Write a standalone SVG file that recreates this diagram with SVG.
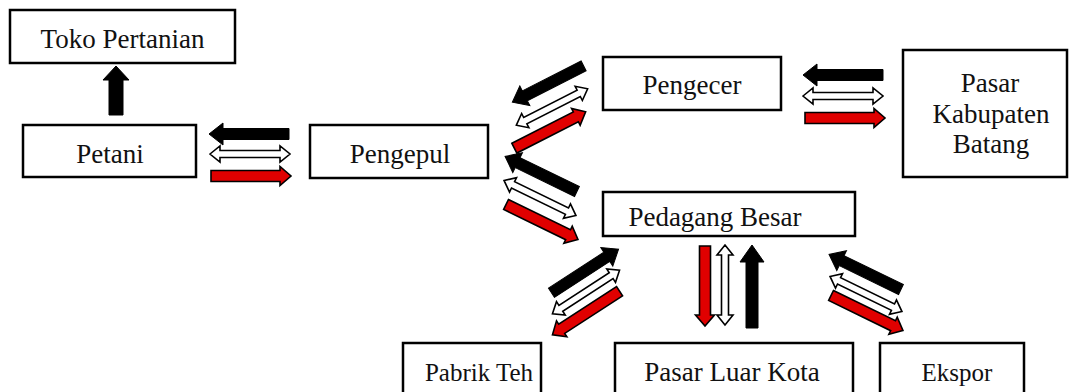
<svg xmlns="http://www.w3.org/2000/svg" width="1071" height="392" viewBox="0 0 1071 392">
<style>
.box{fill:#fff;stroke:#000;stroke-width:2.5}
.t{font-family:"Liberation Serif","Times New Roman",serif;font-size:27px;fill:#111;text-anchor:middle}
.s{font-size:25px}
.blk{fill:#000;stroke:#000;stroke-width:1}
.dbl{fill:#fff;stroke:#000;stroke-width:1.6}
.red{fill:#e00000;stroke:#000;stroke-width:1.6}
</style>
<defs>
<path id="aBlk" class="blk" d="M-40,-5.5 L26,-5.5 L26,-11 L40,0 L26,11 L26,5.5 L-40,5.5 Z"/>
<path id="aDbl" class="dbl" d="M-40,0 L-30,-8 L-30,-3.5 L30,-3.5 L30,-8 L40,0 L30,8 L30,3.5 L-30,3.5 L-30,8 Z"/>
<path id="aRed" class="red" d="M-40,-5.5 L29,-5.5 L29,-9.5 L40,0 L29,9.5 L29,5.5 L-40,5.5 Z"/>
</defs>

<g id="toko"><rect class="box" x="10" y="10" width="225" height="53"/><text class="t" x="122.5" y="48">Toko Pertanian</text></g>
<g id="petani"><rect class="box" x="23" y="125" width="173" height="52"/><text class="t" x="110" y="163">Petani</text></g>
<g id="pengepul"><rect class="box" x="310" y="125" width="178" height="53"/><text class="t" x="400" y="163">Pengepul</text></g>
<g id="pengecer"><rect class="box" x="603" y="57" width="178" height="53"/><text class="t" x="692" y="94">Pengecer</text></g>
<g id="pasar-kabupaten"><rect class="box" x="903" y="50" width="164" height="127"/><text class="t" x="990" y="92">Pasar</text><text class="t" x="991" y="123">Kabupaten</text><text class="t" x="991" y="153">Batang</text></g>
<g id="pedagang-besar"><rect class="box" x="603" y="192" width="252" height="44"/><text class="t" x="715" y="226">Pedagang Besar</text></g>
<g id="pabrik-teh"><rect class="box" x="403" y="343" width="138" height="55"/><text class="t s" x="479" y="381">Pabrik Teh</text></g>
<g id="pasar-luar-kota"><rect class="box" x="615" y="343" width="238" height="55"/><text class="t" x="732" y="381">Pasar Luar Kota</text></g>
<g id="ekspor"><rect class="box" x="880" y="343" width="144" height="55"/><text class="t s" x="957" y="381">Ekspor</text></g>

<g id="connectors">
<path class="blk" d="M109,115 L109,80 L103,80 L116,66 L129,80 L123,80 L123,115 Z"/>

<use href="#aBlk" transform="translate(249,134) rotate(180)"/>
<use href="#aDbl" transform="translate(250,154)"/>
<use href="#aRed" transform="translate(251,176)"/>

<use href="#aBlk" transform="translate(843,75) rotate(180)"/>
<use href="#aDbl" transform="translate(843,96)"/>
<use href="#aRed" transform="translate(845,118)"/>

<use href="#aBlk" transform="translate(548,84) rotate(153)"/>
<use href="#aDbl" transform="translate(552,107) rotate(-27)"/>
<use href="#aRed" transform="translate(550,130) rotate(-27)"/>

<use href="#aBlk" transform="translate(541,174) rotate(206)"/>
<use href="#aDbl" transform="translate(540,198) rotate(26)"/>
<use href="#aRed" transform="translate(542,222) rotate(26)"/>

<use href="#aBlk" transform="translate(585,271) rotate(-33)"/>
<use href="#aDbl" transform="translate(586,292) rotate(-33)"/>
<use href="#aRed" transform="translate(586,313) rotate(147)"/>

<use href="#aRed" transform="translate(705,286) rotate(90)"/>
<use href="#aDbl" transform="translate(725,285) rotate(90)"/>
<path class="blk" d="M746,328 L746,262 L740,262 L752,245 L764,262 L758,262 L758,328 Z"/>

<use href="#aBlk" transform="translate(865,272) rotate(206)"/>
<use href="#aDbl" transform="translate(866,294) rotate(26)"/>
<use href="#aRed" transform="translate(867,313) rotate(26)"/>
</g>
</svg>
